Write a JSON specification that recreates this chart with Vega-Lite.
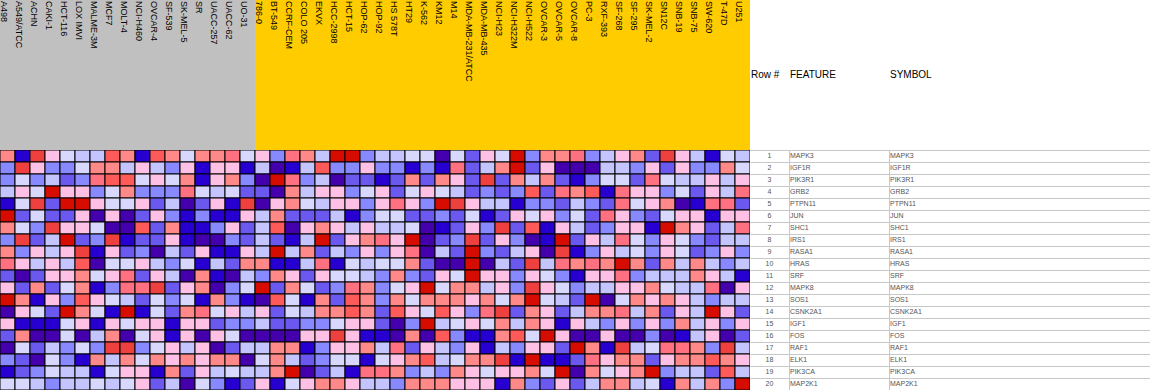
{
"$schema": "https://vega.github.io/schema/vega-lite/v6.json",
"padding": 0,
"background": "#ffffff",
"columns": 4,
"spacing": 0,
"bounds": "flush",
"config": {"view": {"stroke": null}, "font": "Liberation Sans"},
"datasets": {
"samples": [
{"col":0,"name":"A498","phenotype":"A"},{"col":1,"name":"A549/ATCC","phenotype":"A"},{"col":2,"name":"ACHN","phenotype":"A"},{"col":3,"name":"CAKI-1","phenotype":"A"},{"col":4,"name":"HCT-116","phenotype":"A"},{"col":5,"name":"LOX IMVI","phenotype":"A"},{"col":6,"name":"MALME-3M","phenotype":"A"},{"col":7,"name":"MCF7","phenotype":"A"},{"col":8,"name":"MOLT-4","phenotype":"A"},{"col":9,"name":"NCI-H460","phenotype":"A"},{"col":10,"name":"OVCAR-4","phenotype":"A"},{"col":11,"name":"SF-539","phenotype":"A"},{"col":12,"name":"SK-MEL-5","phenotype":"A"},{"col":13,"name":"SR","phenotype":"A"},{"col":14,"name":"UACC-257","phenotype":"A"},{"col":15,"name":"UACC-62","phenotype":"A"},{"col":16,"name":"UO-31","phenotype":"A"},
{"col":17,"name":"786-0","phenotype":"B"},{"col":18,"name":"BT-549","phenotype":"B"},{"col":19,"name":"CCRF-CEM","phenotype":"B"},{"col":20,"name":"COLO 205","phenotype":"B"},{"col":21,"name":"EKVX","phenotype":"B"},{"col":22,"name":"HCC-2998","phenotype":"B"},{"col":23,"name":"HCT-15","phenotype":"B"},{"col":24,"name":"HOP-62","phenotype":"B"},{"col":25,"name":"HOP-92","phenotype":"B"},{"col":26,"name":"HS 578T","phenotype":"B"},{"col":27,"name":"HT29","phenotype":"B"},{"col":28,"name":"K-562","phenotype":"B"},{"col":29,"name":"KM12","phenotype":"B"},{"col":30,"name":"M14","phenotype":"B"},{"col":31,"name":"MDA-MB-231/ATCC","phenotype":"B"},{"col":32,"name":"MDA-MB-435","phenotype":"B"},{"col":33,"name":"NCI-H23","phenotype":"B"},{"col":34,"name":"NCI-H322M","phenotype":"B"},{"col":35,"name":"NCI-H522","phenotype":"B"},{"col":36,"name":"OVCAR-3","phenotype":"B"},{"col":37,"name":"OVCAR-5","phenotype":"B"},{"col":38,"name":"OVCAR-8","phenotype":"B"},{"col":39,"name":"PC-3","phenotype":"B"},{"col":40,"name":"RXF-393","phenotype":"B"},{"col":41,"name":"SF-268","phenotype":"B"},{"col":42,"name":"SF-295","phenotype":"B"},{"col":43,"name":"SK-MEL-2","phenotype":"B"},{"col":44,"name":"SN12C","phenotype":"B"},{"col":45,"name":"SNB-19","phenotype":"B"},{"col":46,"name":"SNB-75","phenotype":"B"},{"col":47,"name":"SW-620","phenotype":"B"},{"col":48,"name":"T-47D","phenotype":"B"},{"col":49,"name":"U251","phenotype":"B"}
],
"genes": [
{"row":1,"feature":"MAPK3","symbol":"MAPK3"},{"row":2,"feature":"IGF1R","symbol":"IGF1R"},{"row":3,"feature":"PIK3R1","symbol":"PIK3R1"},{"row":4,"feature":"GRB2","symbol":"GRB2"},{"row":5,"feature":"PTPN11","symbol":"PTPN11"},{"row":6,"feature":"JUN","symbol":"JUN"},{"row":7,"feature":"SHC1","symbol":"SHC1"},{"row":8,"feature":"IRS1","symbol":"IRS1"},{"row":9,"feature":"RASA1","symbol":"RASA1"},{"row":10,"feature":"HRAS","symbol":"HRAS"},{"row":11,"feature":"SRF","symbol":"SRF"},{"row":12,"feature":"MAPK8","symbol":"MAPK8"},{"row":13,"feature":"SOS1","symbol":"SOS1"},{"row":14,"feature":"CSNK2A1","symbol":"CSNK2A1"},{"row":15,"feature":"IGF1","symbol":"IGF1"},{"row":16,"feature":"FOS","symbol":"FOS"},{"row":17,"feature":"RAF1","symbol":"RAF1"},{"row":18,"feature":"ELK1","symbol":"ELK1"},{"row":19,"feature":"PIK3CA","symbol":"PIK3CA"},{"row":20,"feature":"MAP2K1","symbol":"MAP2K1"}
],
"cells": [
{"row":1,"col":0,"z":2},{"row":1,"col":1,"z":-5},{"row":1,"col":2,"z":5},{"row":1,"col":3,"z":1},{"row":1,"col":4,"z":-1},{"row":1,"col":5,"z":-2},{"row":1,"col":6,"z":-2},{"row":1,"col":7,"z":4},{"row":1,"col":8,"z":2},{"row":1,"col":9,"z":-5},{"row":1,"col":10,"z":4},{"row":1,"col":11,"z":2},{"row":1,"col":12,"z":-1},{"row":1,"col":13,"z":2},{"row":1,"col":14,"z":2},{"row":1,"col":15,"z":3},{"row":1,"col":16,"z":-1},{"row":1,"col":17,"z":1},{"row":1,"col":18,"z":-3},{"row":1,"col":19,"z":3},{"row":1,"col":20,"z":2},{"row":1,"col":21,"z":-2},{"row":1,"col":22,"z":6},{"row":1,"col":23,"z":6},{"row":1,"col":24,"z":-3},{"row":1,"col":25,"z":-2},{"row":1,"col":26,"z":-2},{"row":1,"col":27,"z":-1},{"row":1,"col":28,"z":-1},{"row":1,"col":29,"z":-6},{"row":1,"col":30,"z":-1},{"row":1,"col":31,"z":-4},{"row":1,"col":32,"z":1},{"row":1,"col":33,"z":-1},{"row":1,"col":34,"z":6},{"row":1,"col":35,"z":-3},{"row":1,"col":36,"z":2},{"row":1,"col":37,"z":2},{"row":1,"col":38,"z":3},{"row":1,"col":39,"z":-3},{"row":1,"col":40,"z":-2},{"row":1,"col":41,"z":1},{"row":1,"col":42,"z":2},{"row":1,"col":43,"z":-4},{"row":1,"col":44,"z":5},{"row":1,"col":45,"z":1},{"row":1,"col":46,"z":-2},{"row":1,"col":47,"z":-5},{"row":1,"col":48,"z":-1},{"row":1,"col":49,"z":-2},
{"row":2,"col":0,"z":-3},{"row":2,"col":1,"z":5},{"row":2,"col":2,"z":1},{"row":2,"col":3,"z":-3},{"row":2,"col":4,"z":-3},{"row":2,"col":5,"z":-1},{"row":2,"col":6,"z":2},{"row":2,"col":7,"z":2},{"row":2,"col":8,"z":-2},{"row":2,"col":9,"z":1},{"row":2,"col":10,"z":-2},{"row":2,"col":11,"z":-3},{"row":2,"col":12,"z":1},{"row":2,"col":13,"z":-5},{"row":2,"col":14,"z":1},{"row":2,"col":15,"z":1},{"row":2,"col":16,"z":-5},{"row":2,"col":17,"z":-2},{"row":2,"col":18,"z":-6},{"row":2,"col":19,"z":-5},{"row":2,"col":20,"z":-2},{"row":2,"col":21,"z":4},{"row":2,"col":22,"z":-3},{"row":2,"col":23,"z":-3},{"row":2,"col":24,"z":1},{"row":2,"col":25,"z":-3},{"row":2,"col":26,"z":-3},{"row":2,"col":27,"z":-5},{"row":2,"col":28,"z":-3},{"row":2,"col":29,"z":-5},{"row":2,"col":30,"z":3},{"row":2,"col":31,"z":-4},{"row":2,"col":32,"z":-2},{"row":2,"col":33,"z":2},{"row":2,"col":34,"z":6},{"row":2,"col":35,"z":-4},{"row":2,"col":36,"z":1},{"row":2,"col":37,"z":-6},{"row":2,"col":38,"z":-6},{"row":2,"col":39,"z":-6},{"row":2,"col":40,"z":-2},{"row":2,"col":41,"z":-2},{"row":2,"col":42,"z":-3},{"row":2,"col":43,"z":1},{"row":2,"col":44,"z":-4},{"row":2,"col":45,"z":1},{"row":2,"col":46,"z":-3},{"row":2,"col":47,"z":-3},{"row":2,"col":48,"z":2},{"row":2,"col":49,"z":-1},
{"row":3,"col":0,"z":-3},{"row":3,"col":1,"z":-1},{"row":3,"col":2,"z":-3},{"row":3,"col":3,"z":-2},{"row":3,"col":4,"z":-4},{"row":3,"col":5,"z":-3},{"row":3,"col":6,"z":3},{"row":3,"col":7,"z":4},{"row":3,"col":8,"z":4},{"row":3,"col":9,"z":-1},{"row":3,"col":10,"z":1},{"row":3,"col":11,"z":-1},{"row":3,"col":12,"z":2},{"row":3,"col":13,"z":-5},{"row":3,"col":14,"z":1},{"row":3,"col":15,"z":2},{"row":3,"col":16,"z":-3},{"row":3,"col":17,"z":-6},{"row":3,"col":18,"z":6},{"row":3,"col":19,"z":3},{"row":3,"col":20,"z":-3},{"row":3,"col":21,"z":-2},{"row":3,"col":22,"z":-6},{"row":3,"col":23,"z":-4},{"row":3,"col":24,"z":-4},{"row":3,"col":25,"z":-5},{"row":3,"col":26,"z":-4},{"row":3,"col":27,"z":2},{"row":3,"col":28,"z":-4},{"row":3,"col":29,"z":2},{"row":3,"col":30,"z":1},{"row":3,"col":31,"z":-4},{"row":3,"col":32,"z":5},{"row":3,"col":33,"z":-4},{"row":3,"col":34,"z":2},{"row":3,"col":35,"z":-2},{"row":3,"col":36,"z":2},{"row":3,"col":37,"z":-4},{"row":3,"col":38,"z":-5},{"row":3,"col":39,"z":-3},{"row":3,"col":40,"z":-1},{"row":3,"col":41,"z":-1},{"row":3,"col":42,"z":-4},{"row":3,"col":43,"z":3},{"row":3,"col":44,"z":-1},{"row":3,"col":45,"z":-2},{"row":3,"col":46,"z":-2},{"row":3,"col":47,"z":1},{"row":3,"col":48,"z":-2},{"row":3,"col":49,"z":1},
{"row":4,"col":0,"z":-2},{"row":4,"col":1,"z":1},{"row":4,"col":2,"z":-1},{"row":4,"col":3,"z":6},{"row":4,"col":4,"z":1},{"row":4,"col":5,"z":1},{"row":4,"col":6,"z":-3},{"row":4,"col":7,"z":-1},{"row":4,"col":8,"z":2},{"row":4,"col":9,"z":-3},{"row":4,"col":10,"z":-3},{"row":4,"col":11,"z":-3},{"row":4,"col":12,"z":3},{"row":4,"col":13,"z":-1},{"row":4,"col":14,"z":-2},{"row":4,"col":15,"z":-1},{"row":4,"col":16,"z":-4},{"row":4,"col":17,"z":-4},{"row":4,"col":18,"z":-6},{"row":4,"col":19,"z":2},{"row":4,"col":20,"z":-2},{"row":4,"col":21,"z":1},{"row":4,"col":22,"z":1},{"row":4,"col":23,"z":-3},{"row":4,"col":24,"z":-1},{"row":4,"col":25,"z":1},{"row":4,"col":26,"z":-4},{"row":4,"col":27,"z":-1},{"row":4,"col":28,"z":1},{"row":4,"col":29,"z":-1},{"row":4,"col":30,"z":-2},{"row":4,"col":31,"z":-4},{"row":4,"col":32,"z":-3},{"row":4,"col":33,"z":-4},{"row":4,"col":34,"z":-3},{"row":4,"col":35,"z":4},{"row":4,"col":36,"z":-4},{"row":4,"col":37,"z":3},{"row":4,"col":38,"z":2},{"row":4,"col":39,"z":4},{"row":4,"col":40,"z":-5},{"row":4,"col":41,"z":3},{"row":4,"col":42,"z":1},{"row":4,"col":43,"z":1},{"row":4,"col":44,"z":-3},{"row":4,"col":45,"z":-1},{"row":4,"col":46,"z":-4},{"row":4,"col":47,"z":1},{"row":4,"col":48,"z":-2},{"row":4,"col":49,"z":3},
{"row":5,"col":0,"z":-5},{"row":5,"col":1,"z":-1},{"row":5,"col":2,"z":5},{"row":5,"col":3,"z":-4},{"row":5,"col":4,"z":6},{"row":5,"col":5,"z":6},{"row":5,"col":6,"z":1},{"row":5,"col":7,"z":-1},{"row":5,"col":8,"z":-1},{"row":5,"col":9,"z":1},{"row":5,"col":10,"z":-4},{"row":5,"col":11,"z":-2},{"row":5,"col":12,"z":-6},{"row":5,"col":13,"z":-4},{"row":5,"col":14,"z":1},{"row":5,"col":15,"z":-5},{"row":5,"col":16,"z":5},{"row":5,"col":17,"z":-6},{"row":5,"col":18,"z":1},{"row":5,"col":19,"z":2},{"row":5,"col":20,"z":-1},{"row":5,"col":21,"z":-2},{"row":5,"col":22,"z":1},{"row":5,"col":23,"z":1},{"row":5,"col":24,"z":-3},{"row":5,"col":25,"z":1},{"row":5,"col":26,"z":3},{"row":5,"col":27,"z":1},{"row":5,"col":28,"z":-3},{"row":5,"col":29,"z":6},{"row":5,"col":30,"z":5},{"row":5,"col":31,"z":1},{"row":5,"col":32,"z":-2},{"row":5,"col":33,"z":-2},{"row":5,"col":34,"z":-5},{"row":5,"col":35,"z":-3},{"row":5,"col":36,"z":-3},{"row":5,"col":37,"z":-4},{"row":5,"col":38,"z":-2},{"row":5,"col":39,"z":-3},{"row":5,"col":40,"z":-4},{"row":5,"col":41,"z":3},{"row":5,"col":42,"z":-1},{"row":5,"col":43,"z":1},{"row":5,"col":44,"z":2},{"row":5,"col":45,"z":-6},{"row":5,"col":46,"z":-5},{"row":5,"col":47,"z":3},{"row":5,"col":48,"z":3},{"row":5,"col":49,"z":-4},
{"row":6,"col":0,"z":6},{"row":6,"col":1,"z":-4},{"row":6,"col":2,"z":-1},{"row":6,"col":3,"z":-4},{"row":6,"col":4,"z":-4},{"row":6,"col":5,"z":1},{"row":6,"col":6,"z":-6},{"row":6,"col":7,"z":1},{"row":6,"col":8,"z":-6},{"row":6,"col":9,"z":-4},{"row":6,"col":10,"z":1},{"row":6,"col":11,"z":-3},{"row":6,"col":12,"z":-5},{"row":6,"col":13,"z":-3},{"row":6,"col":14,"z":-5},{"row":6,"col":15,"z":-5},{"row":6,"col":16,"z":1},{"row":6,"col":17,"z":-2},{"row":6,"col":18,"z":2},{"row":6,"col":19,"z":-4},{"row":6,"col":20,"z":-4},{"row":6,"col":21,"z":-4},{"row":6,"col":22,"z":-2},{"row":6,"col":23,"z":-5},{"row":6,"col":24,"z":-3},{"row":6,"col":25,"z":-1},{"row":6,"col":26,"z":-1},{"row":6,"col":27,"z":-4},{"row":6,"col":28,"z":-4},{"row":6,"col":29,"z":-3},{"row":6,"col":30,"z":-4},{"row":6,"col":31,"z":-1},{"row":6,"col":32,"z":-5},{"row":6,"col":33,"z":-4},{"row":6,"col":34,"z":1},{"row":6,"col":35,"z":-1},{"row":6,"col":36,"z":1},{"row":6,"col":37,"z":-3},{"row":6,"col":38,"z":-1},{"row":6,"col":39,"z":-4},{"row":6,"col":40,"z":3},{"row":6,"col":41,"z":1},{"row":6,"col":42,"z":-3},{"row":6,"col":43,"z":-4},{"row":6,"col":44,"z":-1},{"row":6,"col":45,"z":1},{"row":6,"col":46,"z":1},{"row":6,"col":47,"z":-5},{"row":6,"col":48,"z":1},{"row":6,"col":49,"z":1},
{"row":7,"col":0,"z":2},{"row":7,"col":1,"z":-1},{"row":7,"col":2,"z":-3},{"row":7,"col":3,"z":5},{"row":7,"col":4,"z":1},{"row":7,"col":5,"z":1},{"row":7,"col":6,"z":-1},{"row":7,"col":7,"z":-6},{"row":7,"col":8,"z":-6},{"row":7,"col":9,"z":4},{"row":7,"col":10,"z":-4},{"row":7,"col":11,"z":2},{"row":7,"col":12,"z":-5},{"row":7,"col":13,"z":-5},{"row":7,"col":14,"z":-3},{"row":7,"col":15,"z":1},{"row":7,"col":16,"z":-4},{"row":7,"col":17,"z":-2},{"row":7,"col":18,"z":4},{"row":7,"col":19,"z":-6},{"row":7,"col":20,"z":1},{"row":7,"col":21,"z":2},{"row":7,"col":22,"z":1},{"row":7,"col":23,"z":-2},{"row":7,"col":24,"z":1},{"row":7,"col":25,"z":-2},{"row":7,"col":26,"z":-2},{"row":7,"col":27,"z":-1},{"row":7,"col":28,"z":-6},{"row":7,"col":29,"z":-5},{"row":7,"col":30,"z":-4},{"row":7,"col":31,"z":1},{"row":7,"col":32,"z":-3},{"row":7,"col":33,"z":5},{"row":7,"col":34,"z":-4},{"row":7,"col":35,"z":4},{"row":7,"col":36,"z":-5},{"row":7,"col":37,"z":1},{"row":7,"col":38,"z":-2},{"row":7,"col":39,"z":-4},{"row":7,"col":40,"z":-3},{"row":7,"col":41,"z":1},{"row":7,"col":42,"z":1},{"row":7,"col":43,"z":-5},{"row":7,"col":44,"z":6},{"row":7,"col":45,"z":2},{"row":7,"col":46,"z":1},{"row":7,"col":47,"z":-4},{"row":7,"col":48,"z":-2},{"row":7,"col":49,"z":3},
{"row":8,"col":0,"z":-3},{"row":8,"col":1,"z":5},{"row":8,"col":2,"z":-4},{"row":8,"col":3,"z":-2},{"row":8,"col":4,"z":6},{"row":8,"col":5,"z":-4},{"row":8,"col":6,"z":-3},{"row":8,"col":7,"z":5},{"row":8,"col":8,"z":-5},{"row":8,"col":9,"z":-4},{"row":8,"col":10,"z":-4},{"row":8,"col":11,"z":1},{"row":8,"col":12,"z":-5},{"row":8,"col":13,"z":-6},{"row":8,"col":14,"z":-6},{"row":8,"col":15,"z":-3},{"row":8,"col":16,"z":-4},{"row":8,"col":17,"z":-2},{"row":8,"col":18,"z":-4},{"row":8,"col":19,"z":-5},{"row":8,"col":20,"z":-2},{"row":8,"col":21,"z":6},{"row":8,"col":22,"z":-4},{"row":8,"col":23,"z":1},{"row":8,"col":24,"z":2},{"row":8,"col":25,"z":3},{"row":8,"col":26,"z":1},{"row":8,"col":27,"z":6},{"row":8,"col":28,"z":-6},{"row":8,"col":29,"z":-4},{"row":8,"col":30,"z":-3},{"row":8,"col":31,"z":5},{"row":8,"col":32,"z":-4},{"row":8,"col":33,"z":1},{"row":8,"col":34,"z":-3},{"row":8,"col":35,"z":-6},{"row":8,"col":36,"z":-5},{"row":8,"col":37,"z":6},{"row":8,"col":38,"z":-4},{"row":8,"col":39,"z":1},{"row":8,"col":40,"z":-2},{"row":8,"col":41,"z":3},{"row":8,"col":42,"z":-1},{"row":8,"col":43,"z":-3},{"row":8,"col":44,"z":1},{"row":8,"col":45,"z":-1},{"row":8,"col":46,"z":-3},{"row":8,"col":47,"z":-4},{"row":8,"col":48,"z":-2},{"row":8,"col":49,"z":-2},
{"row":9,"col":0,"z":2},{"row":9,"col":1,"z":-3},{"row":9,"col":2,"z":1},{"row":9,"col":3,"z":-2},{"row":9,"col":4,"z":1},{"row":9,"col":5,"z":5},{"row":9,"col":6,"z":-5},{"row":9,"col":7,"z":1},{"row":9,"col":8,"z":-4},{"row":9,"col":9,"z":-3},{"row":9,"col":10,"z":-6},{"row":9,"col":11,"z":-2},{"row":9,"col":12,"z":-4},{"row":9,"col":13,"z":1},{"row":9,"col":14,"z":-5},{"row":9,"col":15,"z":-5},{"row":9,"col":16,"z":1},{"row":9,"col":17,"z":-2},{"row":9,"col":18,"z":6},{"row":9,"col":19,"z":-2},{"row":9,"col":20,"z":2},{"row":9,"col":21,"z":-4},{"row":9,"col":22,"z":-2},{"row":9,"col":23,"z":-3},{"row":9,"col":24,"z":1},{"row":9,"col":25,"z":-3},{"row":9,"col":26,"z":1},{"row":9,"col":27,"z":3},{"row":9,"col":28,"z":-6},{"row":9,"col":29,"z":-2},{"row":9,"col":30,"z":-4},{"row":9,"col":31,"z":6},{"row":9,"col":32,"z":-3},{"row":9,"col":33,"z":-4},{"row":9,"col":34,"z":-2},{"row":9,"col":35,"z":1},{"row":9,"col":36,"z":-6},{"row":9,"col":37,"z":5},{"row":9,"col":38,"z":-5},{"row":9,"col":39,"z":-3},{"row":9,"col":40,"z":1},{"row":9,"col":41,"z":-2},{"row":9,"col":42,"z":-1},{"row":9,"col":43,"z":-3},{"row":9,"col":44,"z":1},{"row":9,"col":45,"z":-1},{"row":9,"col":46,"z":-4},{"row":9,"col":47,"z":-3},{"row":9,"col":48,"z":1},{"row":9,"col":49,"z":-3},
{"row":10,"col":0,"z":3},{"row":10,"col":1,"z":1},{"row":10,"col":2,"z":-2},{"row":10,"col":3,"z":1},{"row":10,"col":4,"z":-2},{"row":10,"col":5,"z":4},{"row":10,"col":6,"z":-6},{"row":10,"col":7,"z":-1},{"row":10,"col":8,"z":-1},{"row":10,"col":9,"z":1},{"row":10,"col":10,"z":-2},{"row":10,"col":11,"z":-3},{"row":10,"col":12,"z":-1},{"row":10,"col":13,"z":-5},{"row":10,"col":14,"z":-2},{"row":10,"col":15,"z":-4},{"row":10,"col":16,"z":2},{"row":10,"col":17,"z":2},{"row":10,"col":18,"z":-5},{"row":10,"col":19,"z":-5},{"row":10,"col":20,"z":-2},{"row":10,"col":21,"z":3},{"row":10,"col":22,"z":-5},{"row":10,"col":23,"z":-1},{"row":10,"col":24,"z":-2},{"row":10,"col":25,"z":-1},{"row":10,"col":26,"z":-1},{"row":10,"col":27,"z":2},{"row":10,"col":28,"z":-4},{"row":10,"col":29,"z":-6},{"row":10,"col":30,"z":-6},{"row":10,"col":31,"z":6},{"row":10,"col":32,"z":-6},{"row":10,"col":33,"z":-2},{"row":10,"col":34,"z":-4},{"row":10,"col":35,"z":5},{"row":10,"col":36,"z":-2},{"row":10,"col":37,"z":3},{"row":10,"col":38,"z":2},{"row":10,"col":39,"z":3},{"row":10,"col":40,"z":2},{"row":10,"col":41,"z":6},{"row":10,"col":42,"z":2},{"row":10,"col":43,"z":-4},{"row":10,"col":44,"z":2},{"row":10,"col":45,"z":-2},{"row":10,"col":46,"z":2},{"row":10,"col":47,"z":-2},{"row":10,"col":48,"z":-3},{"row":10,"col":49,"z":-2},
{"row":11,"col":0,"z":-4},{"row":11,"col":1,"z":-6},{"row":11,"col":2,"z":-4},{"row":11,"col":3,"z":1},{"row":11,"col":4,"z":1},{"row":11,"col":5,"z":2},{"row":11,"col":6,"z":-1},{"row":11,"col":7,"z":1},{"row":11,"col":8,"z":3},{"row":11,"col":9,"z":-4},{"row":11,"col":10,"z":1},{"row":11,"col":11,"z":-2},{"row":11,"col":12,"z":-6},{"row":11,"col":13,"z":2},{"row":11,"col":14,"z":-5},{"row":11,"col":15,"z":-6},{"row":11,"col":16,"z":-2},{"row":11,"col":17,"z":-3},{"row":11,"col":18,"z":2},{"row":11,"col":19,"z":1},{"row":11,"col":20,"z":-4},{"row":11,"col":21,"z":1},{"row":11,"col":22,"z":-1},{"row":11,"col":23,"z":-1},{"row":11,"col":24,"z":-2},{"row":11,"col":25,"z":-3},{"row":11,"col":26,"z":2},{"row":11,"col":27,"z":-3},{"row":11,"col":28,"z":-4},{"row":11,"col":29,"z":1},{"row":11,"col":30,"z":-1},{"row":11,"col":31,"z":6},{"row":11,"col":32,"z":1},{"row":11,"col":33,"z":1},{"row":11,"col":34,"z":-3},{"row":11,"col":35,"z":1},{"row":11,"col":36,"z":-1},{"row":11,"col":37,"z":-3},{"row":11,"col":38,"z":-5},{"row":11,"col":39,"z":1},{"row":11,"col":40,"z":1},{"row":11,"col":41,"z":3},{"row":11,"col":42,"z":-3},{"row":11,"col":43,"z":-2},{"row":11,"col":44,"z":-2},{"row":11,"col":45,"z":-2},{"row":11,"col":46,"z":2},{"row":11,"col":47,"z":1},{"row":11,"col":48,"z":-2},{"row":11,"col":49,"z":-5},
{"row":12,"col":0,"z":1},{"row":12,"col":1,"z":-4},{"row":12,"col":2,"z":2},{"row":12,"col":3,"z":-4},{"row":12,"col":4,"z":-1},{"row":12,"col":5,"z":2},{"row":12,"col":6,"z":-5},{"row":12,"col":7,"z":-3},{"row":12,"col":8,"z":3},{"row":12,"col":9,"z":3},{"row":12,"col":10,"z":5},{"row":12,"col":11,"z":-4},{"row":12,"col":12,"z":1},{"row":12,"col":13,"z":2},{"row":12,"col":14,"z":-6},{"row":12,"col":15,"z":-3},{"row":12,"col":16,"z":-1},{"row":12,"col":17,"z":6},{"row":12,"col":18,"z":-4},{"row":12,"col":19,"z":2},{"row":12,"col":20,"z":-1},{"row":12,"col":21,"z":-4},{"row":12,"col":22,"z":-3},{"row":12,"col":23,"z":3},{"row":12,"col":24,"z":2},{"row":12,"col":25,"z":-3},{"row":12,"col":26,"z":-1},{"row":12,"col":27,"z":1},{"row":12,"col":28,"z":6},{"row":12,"col":29,"z":-1},{"row":12,"col":30,"z":2},{"row":12,"col":31,"z":2},{"row":12,"col":32,"z":-2},{"row":12,"col":33,"z":1},{"row":12,"col":34,"z":-3},{"row":12,"col":35,"z":5},{"row":12,"col":36,"z":1},{"row":12,"col":37,"z":-1},{"row":12,"col":38,"z":-3},{"row":12,"col":39,"z":-2},{"row":12,"col":40,"z":-2},{"row":12,"col":41,"z":1},{"row":12,"col":42,"z":1},{"row":12,"col":43,"z":2},{"row":12,"col":44,"z":-1},{"row":12,"col":45,"z":-2},{"row":12,"col":46,"z":-2},{"row":12,"col":47,"z":3},{"row":12,"col":48,"z":-6},{"row":12,"col":49,"z":1},
{"row":13,"col":0,"z":6},{"row":13,"col":1,"z":2},{"row":13,"col":2,"z":-5},{"row":13,"col":3,"z":1},{"row":13,"col":4,"z":-3},{"row":13,"col":5,"z":4},{"row":13,"col":6,"z":1},{"row":13,"col":7,"z":-1},{"row":13,"col":8,"z":-2},{"row":13,"col":9,"z":-4},{"row":13,"col":10,"z":-1},{"row":13,"col":11,"z":-3},{"row":13,"col":12,"z":-1},{"row":13,"col":13,"z":-5},{"row":13,"col":14,"z":2},{"row":13,"col":15,"z":-3},{"row":13,"col":16,"z":-5},{"row":13,"col":17,"z":-6},{"row":13,"col":18,"z":4},{"row":13,"col":19,"z":-1},{"row":13,"col":20,"z":-5},{"row":13,"col":21,"z":2},{"row":13,"col":22,"z":-4},{"row":13,"col":23,"z":4},{"row":13,"col":24,"z":2},{"row":13,"col":25,"z":-3},{"row":13,"col":26,"z":2},{"row":13,"col":27,"z":-1},{"row":13,"col":28,"z":2},{"row":13,"col":29,"z":2},{"row":13,"col":30,"z":2},{"row":13,"col":31,"z":1},{"row":13,"col":32,"z":2},{"row":13,"col":33,"z":-1},{"row":13,"col":34,"z":2},{"row":13,"col":35,"z":6},{"row":13,"col":36,"z":-1},{"row":13,"col":37,"z":-2},{"row":13,"col":38,"z":-4},{"row":13,"col":39,"z":6},{"row":13,"col":40,"z":-6},{"row":13,"col":41,"z":-1},{"row":13,"col":42,"z":2},{"row":13,"col":43,"z":1},{"row":13,"col":44,"z":2},{"row":13,"col":45,"z":1},{"row":13,"col":46,"z":-2},{"row":13,"col":47,"z":-3},{"row":13,"col":48,"z":-2},{"row":13,"col":49,"z":-2},
{"row":14,"col":0,"z":-6},{"row":14,"col":1,"z":1},{"row":14,"col":2,"z":-1},{"row":14,"col":3,"z":-4},{"row":14,"col":4,"z":6},{"row":14,"col":5,"z":2},{"row":14,"col":6,"z":-1},{"row":14,"col":7,"z":-5},{"row":14,"col":8,"z":6},{"row":14,"col":9,"z":-5},{"row":14,"col":10,"z":-1},{"row":14,"col":11,"z":-4},{"row":14,"col":12,"z":2},{"row":14,"col":13,"z":3},{"row":14,"col":14,"z":-1},{"row":14,"col":15,"z":1},{"row":14,"col":16,"z":-2},{"row":14,"col":17,"z":1},{"row":14,"col":18,"z":-4},{"row":14,"col":19,"z":-1},{"row":14,"col":20,"z":-2},{"row":14,"col":21,"z":2},{"row":14,"col":22,"z":2},{"row":14,"col":23,"z":4},{"row":14,"col":24,"z":2},{"row":14,"col":25,"z":-4},{"row":14,"col":26,"z":4},{"row":14,"col":27,"z":1},{"row":14,"col":28,"z":-1},{"row":14,"col":29,"z":4},{"row":14,"col":30,"z":1},{"row":14,"col":31,"z":-3},{"row":14,"col":32,"z":3},{"row":14,"col":33,"z":5},{"row":14,"col":34,"z":-4},{"row":14,"col":35,"z":2},{"row":14,"col":36,"z":1},{"row":14,"col":37,"z":-4},{"row":14,"col":38,"z":-2},{"row":14,"col":39,"z":2},{"row":14,"col":40,"z":2},{"row":14,"col":41,"z":3},{"row":14,"col":42,"z":-2},{"row":14,"col":43,"z":2},{"row":14,"col":44,"z":-4},{"row":14,"col":45,"z":1},{"row":14,"col":46,"z":-2},{"row":14,"col":47,"z":6},{"row":14,"col":48,"z":1},{"row":14,"col":49,"z":-4},
{"row":15,"col":0,"z":1},{"row":15,"col":1,"z":-5},{"row":15,"col":2,"z":-5},{"row":15,"col":3,"z":-5},{"row":15,"col":4,"z":-1},{"row":15,"col":5,"z":1},{"row":15,"col":6,"z":-5},{"row":15,"col":7,"z":1},{"row":15,"col":8,"z":-1},{"row":15,"col":9,"z":1},{"row":15,"col":10,"z":1},{"row":15,"col":11,"z":-5},{"row":15,"col":12,"z":1},{"row":15,"col":13,"z":1},{"row":15,"col":14,"z":-4},{"row":15,"col":15,"z":-3},{"row":15,"col":16,"z":-3},{"row":15,"col":17,"z":-2},{"row":15,"col":18,"z":-4},{"row":15,"col":19,"z":-4},{"row":15,"col":20,"z":-3},{"row":15,"col":21,"z":-3},{"row":15,"col":22,"z":-1},{"row":15,"col":23,"z":1},{"row":15,"col":24,"z":1},{"row":15,"col":25,"z":-4},{"row":15,"col":26,"z":-6},{"row":15,"col":27,"z":-3},{"row":15,"col":28,"z":6},{"row":15,"col":29,"z":-2},{"row":15,"col":30,"z":-1},{"row":15,"col":31,"z":1},{"row":15,"col":32,"z":-1},{"row":15,"col":33,"z":2},{"row":15,"col":34,"z":-2},{"row":15,"col":35,"z":2},{"row":15,"col":36,"z":1},{"row":15,"col":37,"z":-5},{"row":15,"col":38,"z":1},{"row":15,"col":39,"z":-2},{"row":15,"col":40,"z":-3},{"row":15,"col":41,"z":1},{"row":15,"col":42,"z":-3},{"row":15,"col":43,"z":1},{"row":15,"col":44,"z":-3},{"row":15,"col":45,"z":2},{"row":15,"col":46,"z":-2},{"row":15,"col":47,"z":1},{"row":15,"col":48,"z":-3},{"row":15,"col":49,"z":1},
{"row":16,"col":0,"z":-4},{"row":16,"col":1,"z":2},{"row":16,"col":2,"z":-6},{"row":16,"col":3,"z":-6},{"row":16,"col":4,"z":-1},{"row":16,"col":5,"z":-6},{"row":16,"col":6,"z":-2},{"row":16,"col":7,"z":2},{"row":16,"col":8,"z":-6},{"row":16,"col":9,"z":-1},{"row":16,"col":10,"z":1},{"row":16,"col":11,"z":-5},{"row":16,"col":12,"z":1},{"row":16,"col":13,"z":-6},{"row":16,"col":14,"z":1},{"row":16,"col":15,"z":-1},{"row":16,"col":16,"z":-6},{"row":16,"col":17,"z":-6},{"row":16,"col":18,"z":-6},{"row":16,"col":19,"z":-6},{"row":16,"col":20,"z":1},{"row":16,"col":21,"z":1},{"row":16,"col":22,"z":5},{"row":16,"col":23,"z":1},{"row":16,"col":24,"z":-5},{"row":16,"col":25,"z":-5},{"row":16,"col":26,"z":-6},{"row":16,"col":27,"z":2},{"row":16,"col":28,"z":-6},{"row":16,"col":29,"z":4},{"row":16,"col":30,"z":-3},{"row":16,"col":31,"z":-5},{"row":16,"col":32,"z":-5},{"row":16,"col":33,"z":2},{"row":16,"col":34,"z":4},{"row":16,"col":35,"z":-1},{"row":16,"col":36,"z":6},{"row":16,"col":37,"z":1},{"row":16,"col":38,"z":-6},{"row":16,"col":39,"z":-6},{"row":16,"col":40,"z":1},{"row":16,"col":41,"z":-6},{"row":16,"col":42,"z":-6},{"row":16,"col":43,"z":-3},{"row":16,"col":44,"z":-6},{"row":16,"col":45,"z":-5},{"row":16,"col":46,"z":-2},{"row":16,"col":47,"z":1},{"row":16,"col":48,"z":-6},{"row":16,"col":49,"z":-4},
{"row":17,"col":0,"z":-6},{"row":17,"col":1,"z":-1},{"row":17,"col":2,"z":-4},{"row":17,"col":3,"z":-2},{"row":17,"col":4,"z":-3},{"row":17,"col":5,"z":-1},{"row":17,"col":6,"z":-3},{"row":17,"col":7,"z":5},{"row":17,"col":8,"z":5},{"row":17,"col":9,"z":-3},{"row":17,"col":10,"z":-1},{"row":17,"col":11,"z":1},{"row":17,"col":12,"z":-2},{"row":17,"col":13,"z":1},{"row":17,"col":14,"z":-6},{"row":17,"col":15,"z":-4},{"row":17,"col":16,"z":-2},{"row":17,"col":17,"z":-2},{"row":17,"col":18,"z":2},{"row":17,"col":19,"z":2},{"row":17,"col":20,"z":-5},{"row":17,"col":21,"z":-3},{"row":17,"col":22,"z":1},{"row":17,"col":23,"z":1},{"row":17,"col":24,"z":2},{"row":17,"col":25,"z":-2},{"row":17,"col":26,"z":3},{"row":17,"col":27,"z":-4},{"row":17,"col":28,"z":1},{"row":17,"col":29,"z":-2},{"row":17,"col":30,"z":-3},{"row":17,"col":31,"z":1},{"row":17,"col":32,"z":-5},{"row":17,"col":33,"z":-2},{"row":17,"col":34,"z":-3},{"row":17,"col":35,"z":1},{"row":17,"col":36,"z":1},{"row":17,"col":37,"z":-4},{"row":17,"col":38,"z":6},{"row":17,"col":39,"z":2},{"row":17,"col":40,"z":-5},{"row":17,"col":41,"z":5},{"row":17,"col":42,"z":-2},{"row":17,"col":43,"z":-1},{"row":17,"col":44,"z":3},{"row":17,"col":45,"z":3},{"row":17,"col":46,"z":2},{"row":17,"col":47,"z":-3},{"row":17,"col":48,"z":5},{"row":17,"col":49,"z":-2},
{"row":18,"col":0,"z":-3},{"row":18,"col":1,"z":-4},{"row":18,"col":2,"z":-6},{"row":18,"col":3,"z":-1},{"row":18,"col":4,"z":-3},{"row":18,"col":5,"z":-5},{"row":18,"col":6,"z":2},{"row":18,"col":7,"z":-2},{"row":18,"col":8,"z":2},{"row":18,"col":9,"z":-1},{"row":18,"col":10,"z":2},{"row":18,"col":11,"z":1},{"row":18,"col":12,"z":2},{"row":18,"col":13,"z":1},{"row":18,"col":14,"z":2},{"row":18,"col":15,"z":2},{"row":18,"col":16,"z":-6},{"row":18,"col":17,"z":-1},{"row":18,"col":18,"z":2},{"row":18,"col":19,"z":-2},{"row":18,"col":20,"z":-4},{"row":18,"col":21,"z":-3},{"row":18,"col":22,"z":-1},{"row":18,"col":23,"z":-1},{"row":18,"col":24,"z":-5},{"row":18,"col":25,"z":-1},{"row":18,"col":26,"z":1},{"row":18,"col":27,"z":2},{"row":18,"col":28,"z":4},{"row":18,"col":29,"z":-2},{"row":18,"col":30,"z":-1},{"row":18,"col":31,"z":2},{"row":18,"col":32,"z":2},{"row":18,"col":33,"z":5},{"row":18,"col":34,"z":-5},{"row":18,"col":35,"z":6},{"row":18,"col":36,"z":-5},{"row":18,"col":37,"z":-5},{"row":18,"col":38,"z":-4},{"row":18,"col":39,"z":3},{"row":18,"col":40,"z":1},{"row":18,"col":41,"z":2},{"row":18,"col":42,"z":2},{"row":18,"col":43,"z":-4},{"row":18,"col":44,"z":1},{"row":18,"col":45,"z":2},{"row":18,"col":46,"z":2},{"row":18,"col":47,"z":4},{"row":18,"col":48,"z":2},{"row":18,"col":49,"z":1},
{"row":19,"col":0,"z":-5},{"row":19,"col":1,"z":-4},{"row":19,"col":2,"z":-3},{"row":19,"col":3,"z":-1},{"row":19,"col":4,"z":-2},{"row":19,"col":5,"z":-2},{"row":19,"col":6,"z":-5},{"row":19,"col":7,"z":-1},{"row":19,"col":8,"z":1},{"row":19,"col":9,"z":1},{"row":19,"col":10,"z":-5},{"row":19,"col":11,"z":2},{"row":19,"col":12,"z":-4},{"row":19,"col":13,"z":1},{"row":19,"col":14,"z":-2},{"row":19,"col":15,"z":-1},{"row":19,"col":16,"z":-2},{"row":19,"col":17,"z":-2},{"row":19,"col":18,"z":2},{"row":19,"col":19,"z":6},{"row":19,"col":20,"z":-6},{"row":19,"col":21,"z":-4},{"row":19,"col":22,"z":-2},{"row":19,"col":23,"z":-5},{"row":19,"col":24,"z":3},{"row":19,"col":25,"z":3},{"row":19,"col":26,"z":2},{"row":19,"col":27,"z":-3},{"row":19,"col":28,"z":-2},{"row":19,"col":29,"z":-3},{"row":19,"col":30,"z":2},{"row":19,"col":31,"z":1},{"row":19,"col":32,"z":-1},{"row":19,"col":33,"z":1},{"row":19,"col":34,"z":1},{"row":19,"col":35,"z":2},{"row":19,"col":36,"z":-1},{"row":19,"col":37,"z":6},{"row":19,"col":38,"z":-6},{"row":19,"col":39,"z":2},{"row":19,"col":40,"z":-1},{"row":19,"col":41,"z":1},{"row":19,"col":42,"z":2},{"row":19,"col":43,"z":6},{"row":19,"col":44,"z":-3},{"row":19,"col":45,"z":-2},{"row":19,"col":46,"z":-2},{"row":19,"col":47,"z":-4},{"row":19,"col":48,"z":4},{"row":19,"col":49,"z":-2},
{"row":20,"col":0,"z":-1},{"row":20,"col":1,"z":-1},{"row":20,"col":2,"z":-2},{"row":20,"col":3,"z":-3},{"row":20,"col":4,"z":-2},{"row":20,"col":5,"z":-2},{"row":20,"col":6,"z":-1},{"row":20,"col":7,"z":-2},{"row":20,"col":8,"z":-1},{"row":20,"col":9,"z":1},{"row":20,"col":10,"z":-4},{"row":20,"col":11,"z":-2},{"row":20,"col":12,"z":-6},{"row":20,"col":13,"z":-1},{"row":20,"col":14,"z":-3},{"row":20,"col":15,"z":-5},{"row":20,"col":16,"z":-4},{"row":20,"col":17,"z":1},{"row":20,"col":18,"z":-5},{"row":20,"col":19,"z":-1},{"row":20,"col":20,"z":1},{"row":20,"col":21,"z":2},{"row":20,"col":22,"z":2},{"row":20,"col":23,"z":1},{"row":20,"col":24,"z":-2},{"row":20,"col":25,"z":-2},{"row":20,"col":26,"z":-3},{"row":20,"col":27,"z":2},{"row":20,"col":28,"z":2},{"row":20,"col":29,"z":2},{"row":20,"col":30,"z":1},{"row":20,"col":31,"z":1},{"row":20,"col":32,"z":1},{"row":20,"col":33,"z":-5},{"row":20,"col":34,"z":2},{"row":20,"col":35,"z":-3},{"row":20,"col":36,"z":-4},{"row":20,"col":37,"z":1},{"row":20,"col":38,"z":-4},{"row":20,"col":39,"z":-2},{"row":20,"col":40,"z":2},{"row":20,"col":41,"z":2},{"row":20,"col":42,"z":-2},{"row":20,"col":43,"z":-1},{"row":20,"col":44,"z":-5},{"row":20,"col":45,"z":2},{"row":20,"col":46,"z":-2},{"row":20,"col":47,"z":2},{"row":20,"col":48,"z":-3},{"row":20,"col":49,"z":6}
]
},
"concat": [
{
"width": 750, "height": 150,
"data": {"name": "samples"},
"layer": [
{"mark": {"type": "rect", "clip": true}, "encoding": {"x": {"field": "col", "type": "ordinal", "axis": null, "scale": {"paddingInner": 0, "paddingOuter": 0}}, "color": {"field": "phenotype", "type": "nominal", "scale": {"domain": ["A", "B"], "range": ["#C0C0C0", "#FFCC00"]}, "legend": null}}},
{"mark": {"type": "text", "clip": true, "angle": 90, "align": "left", "baseline": "middle", "dx": -74, "dy": 4, "fontSize": 9, "font": "Liberation Sans", "color": "#000000"}, "encoding": {"x": {"field": "col", "type": "ordinal", "axis": null}, "text": {"field": "name"}}}
]
},
{
"width": 39, "height": 150,
"data": {"values": [{"label": "Row #"}]},
"mark": {"type": "text", "align": "left", "baseline": "middle", "dx": 1, "fontSize": 10, "font": "Liberation Sans", "color": "#000000"},
"encoding": {"x": {"datum": 0, "type": "quantitative", "scale": {"domain": [0, 1]}, "axis": null}, "text": {"field": "label"}}
},
{
"width": 100, "height": 150,
"data": {"values": [{"label": "FEATURE"}]},
"mark": {"type": "text", "align": "left", "baseline": "middle", "dx": 1, "fontSize": 10, "font": "Liberation Sans", "color": "#000000"},
"encoding": {"x": {"datum": 0, "type": "quantitative", "scale": {"domain": [0, 1]}, "axis": null}, "text": {"field": "label"}}
},
{
"width": 261, "height": 150,
"data": {"values": [{"label": "SYMBOL"}]},
"mark": {"type": "text", "align": "left", "baseline": "middle", "dx": 1, "fontSize": 10, "font": "Liberation Sans", "color": "#000000"},
"encoding": {"x": {"datum": 0, "type": "quantitative", "scale": {"domain": [0, 1]}, "axis": null}, "text": {"field": "label"}}
},
{
"width": 750, "height": 240,
"data": {"name": "cells"},
"mark": {"type": "rect", "clip": true, "stroke": "#000000", "strokeWidth": 1},
"encoding": {
"x": {"field": "col", "type": "ordinal", "axis": null, "scale": {"paddingInner": 0, "paddingOuter": 0}},
"y": {"field": "row", "type": "ordinal", "axis": null, "scale": {"paddingInner": 0, "paddingOuter": 0}},
"color": {"field": "z", "type": "quantitative", "legend": null, "scale": {"type": "threshold", "domain": [-5.5, -4.5, -3.5, -2.5, -1.5, 0, 1.5, 2.5, 3.5, 4.5, 5.5], "range": ["#4500AD", "#2700D1", "#6B58EF", "#8888FF", "#C4C4FF", "#D8D8FF", "#FFC0E5", "#FF8989", "#FF7080", "#FF5A5A", "#EF4040", "#D60C00"]}}
}
},
{
"width": 39, "height": 240,
"data": {"name": "genes"},
"mark": {"type": "text", "align": "center", "baseline": "middle", "fontSize": 7, "font": "Liberation Sans", "color": "#555555"},
"encoding": {
"y": {"field": "row", "type": "ordinal", "scale": {"type": "band", "paddingInner": 0, "paddingOuter": 0}, "axis": {"grid": true, "gridColor": "#c8c8c8", "gridWidth": 1, "tickBand": "extent", "labels": false, "ticks": false, "domain": false, "title": null, "minExtent": 0, "maxExtent": 0, "offset": 0}},
"text": {"field": "row"}
}
},
{
"width": 100, "height": 240,
"view": {"stroke": "#c8c8c8"},
"data": {"name": "genes"},
"mark": {"type": "text", "align": "left", "baseline": "middle", "dx": 1, "fontSize": 7, "font": "Liberation Sans", "color": "#555555"},
"encoding": {
"x": {"datum": 0, "type": "quantitative", "scale": {"domain": [0, 1]}, "axis": null},
"y": {"field": "row", "type": "ordinal", "scale": {"type": "band", "paddingInner": 0, "paddingOuter": 0}, "axis": {"grid": true, "gridColor": "#c8c8c8", "gridWidth": 1, "tickBand": "extent", "labels": false, "ticks": false, "domain": false, "title": null, "minExtent": 0, "maxExtent": 0, "offset": 0}},
"text": {"field": "feature"}
}
},
{
"width": 261, "height": 240,
"view": {"stroke": "#c8c8c8"},
"data": {"name": "genes"},
"mark": {"type": "text", "align": "left", "baseline": "middle", "dx": 1, "fontSize": 7, "font": "Liberation Sans", "color": "#555555"},
"encoding": {
"x": {"datum": 0, "type": "quantitative", "scale": {"domain": [0, 1]}, "axis": null},
"y": {"field": "row", "type": "ordinal", "scale": {"type": "band", "paddingInner": 0, "paddingOuter": 0}, "axis": {"grid": true, "gridColor": "#c8c8c8", "gridWidth": 1, "tickBand": "extent", "labels": false, "ticks": false, "domain": false, "title": null, "minExtent": 0, "maxExtent": 0, "offset": 0}},
"text": {"field": "symbol"}
}
}
]
}
